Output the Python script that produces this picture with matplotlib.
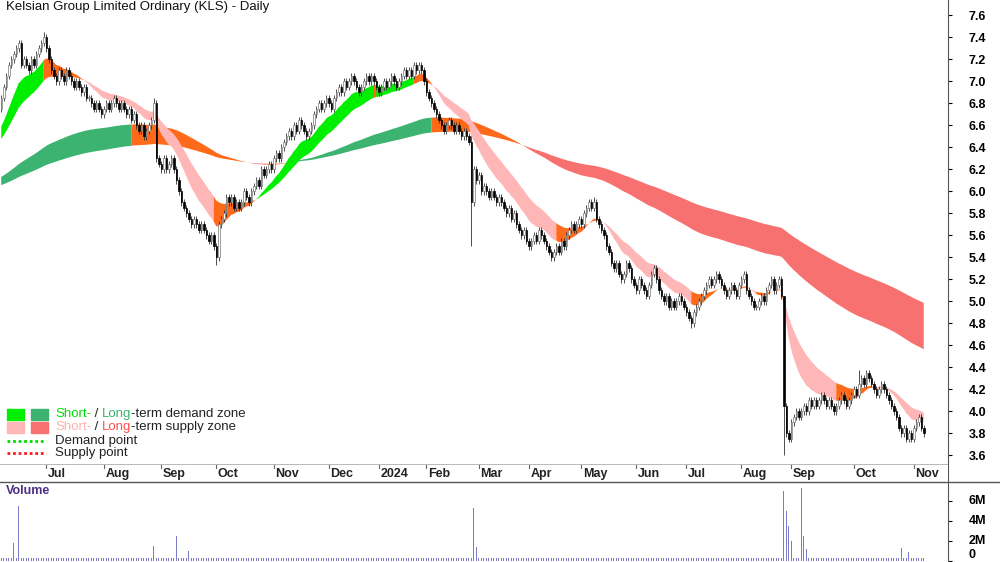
import numpy as np
import matplotlib
matplotlib.use("Agg")
import matplotlib.pyplot as plt
from matplotlib.patches import Rectangle

plt.rcParams['font.family'] = ['Liberation Sans', 'DejaVu Sans']

# daily closes (about 2.5 px per bar)
closes = [
    6.85, 6.95, 7.05, 7.15, 7.20, 7.25, 7.30, 7.35, 7.15, 7.20,
    7.15, 7.10, 7.20, 7.15, 7.25, 7.30, 7.35, 7.40, 7.30, 7.20,
    7.10, 7.05, 7.00, 7.10, 7.05, 7.00, 7.10, 7.05, 7.00, 6.95,
    7.00, 6.95, 6.90, 6.95, 6.85, 6.85, 6.80, 6.75, 6.80, 6.75,
    6.70, 6.75, 6.80, 6.75, 6.80, 6.85, 6.80, 6.75, 6.80, 6.75,
    6.70, 6.75, 6.65, 6.70, 6.60, 6.55, 6.60, 6.50, 6.55, 6.60,
    6.65, 6.80, 6.30, 6.25, 6.20, 6.30, 6.20, 6.25, 6.30, 6.20,
    6.10, 6.00, 5.90, 5.85, 5.80, 5.75, 5.70, 5.75, 5.70, 5.65,
    5.70, 5.65, 5.60, 5.55, 5.60, 5.50, 5.40, 5.70, 5.75, 5.80,
    5.95, 5.90, 5.95, 5.85, 5.90, 5.85, 5.90, 6.00, 5.95, 5.90,
    6.00, 6.05, 6.10, 6.05, 6.20, 6.15, 6.20, 6.25, 6.20, 6.30,
    6.35, 6.30, 6.40, 6.45, 6.50, 6.55, 6.50, 6.60, 6.55, 6.65,
    6.60, 6.55, 6.50, 6.55, 6.60, 6.70, 6.75, 6.80, 6.75, 6.80,
    6.85, 6.80, 6.75, 6.85, 6.90, 6.95, 6.90, 7.00, 6.95, 7.00,
    7.05, 7.00, 6.95, 6.90, 6.95, 7.00, 7.05, 7.00, 7.05, 7.00,
    6.95, 6.90, 6.95, 7.00, 6.95, 7.00, 7.05, 7.00, 6.95, 7.00,
    7.05, 7.10, 7.05, 7.10, 7.05, 7.15, 7.10, 7.15, 7.10, 7.00,
    6.90, 6.85, 6.80, 6.75, 6.70, 6.65, 6.60, 6.55, 6.60, 6.65,
    6.60, 6.55, 6.60, 6.55, 6.50, 6.55, 6.50, 6.45, 5.90, 6.20,
    6.10, 6.15, 6.00, 6.05, 6.00, 5.95, 6.00, 5.95, 5.90, 5.95,
    5.90, 5.85, 5.80, 5.85, 5.75, 5.80, 5.70, 5.65, 5.60, 5.65,
    5.55, 5.50, 5.55, 5.60, 5.55, 5.65, 5.60, 5.55, 5.50, 5.45,
    5.40, 5.45, 5.50, 5.45, 5.55, 5.50, 5.60, 5.65, 5.70, 5.65,
    5.70, 5.75, 5.70, 5.80, 5.85, 5.90, 5.85, 5.90, 5.75, 5.70,
    5.65, 5.60, 5.50, 5.45, 5.35, 5.30, 5.35, 5.25, 5.20, 5.25,
    5.35, 5.30, 5.20, 5.15, 5.10, 5.20, 5.15, 5.10, 5.05, 5.15,
    5.25, 5.30, 5.20, 5.10, 5.05, 5.00, 5.05, 4.95, 5.00, 4.95,
    5.00, 5.05, 5.00, 4.95, 4.90, 4.85, 4.80, 4.90, 4.95, 5.00,
    5.05, 5.10, 5.15, 5.20, 5.15, 5.20, 5.25, 5.20, 5.15, 5.10,
    5.05, 5.10, 5.15, 5.10, 5.05, 5.15, 5.20, 5.25, 5.10, 5.05,
    5.00, 4.95, 4.95, 5.00, 5.05, 5.00, 5.10, 5.15, 5.20, 5.10,
    5.15, 5.20, 5.05, 4.05, 3.80, 3.75, 3.90, 3.95, 4.00, 3.95,
    4.00, 4.05, 4.00, 4.10, 4.05, 4.10, 4.05, 4.10, 4.15, 4.10,
    4.05, 4.10, 4.05, 4.00, 4.05, 4.10, 4.15, 4.10, 4.05, 4.10,
    4.15, 4.20, 4.15, 4.25, 4.30, 4.25, 4.35, 4.30, 4.25, 4.20,
    4.15, 4.20, 4.25, 4.20, 4.15, 4.10, 4.05, 4.00, 3.95, 3.85,
    3.80, 3.85, 3.75, 3.80, 3.75, 3.85, 3.90, 3.95, 3.85, 3.80,
]
first_open = 6.75
# bars whose high/low stand out from the usual short wick
high_spikes = {17: 7.45, 61: 6.85, 188: 6.50, 237: 5.95, 313: 4.40, 343: 4.38}
low_spikes = {86: 5.33, 188: 5.50, 313: 3.60, 276: 4.76, 364: 3.72}

# volume in millions
vol_base = 0.3
vol_spikes = {5: 1.8, 7: 5.5, 61: 1.5, 70: 2.5, 75: 1.0, 189: 5.3, 190: 1.4,
              313: 7.0, 314: 5.0, 315: 3.5, 316: 2.0, 320: 7.3, 321: 2.5,
              322: 1.2, 360: 1.3, 363: 0.9}

month_labels = ["Jul", "Aug", "Sep", "Oct", "Nov", "Dec", "2024", "Feb", "Mar",
                "Apr", "May", "Jun", "Jul", "Aug", "Sep", "Oct", "Nov"]
month_idx = [18, 41, 64, 86, 109, 131, 151, 170, 191, 211, 232, 254, 274,
             296, 316, 341, 365]

# indicator seeds (values already in place when the chart starts)
short_seed = (6.55, 6.45)
long_seed = (6.12, 6.05)
short_spans = (14, 28)
long_spans = (120, 210)

n = len(closes)
c = np.array(closes)
o = np.concatenate([[first_open], c[:-1]])
hi = np.maximum(o, c) + 0.03
lo = np.minimum(o, c) - 0.03
for k, v in high_spikes.items():
    hi[k] = v
for k, v in low_spikes.items():
    lo[k] = v
vol = np.full(n, vol_base)
for k, v in vol_spikes.items():
    vol[k] = v


def ema(seed, span):
    a = 2 / (span + 1)
    out = np.empty(n)
    prev = seed
    for i in range(n):
        prev = prev + a * (c[i] - prev)
        out[i] = prev
    return out


s_fast, s_slow = ema(short_seed[0], short_spans[0]), ema(short_seed[1], short_spans[1])
l_fast, l_slow = ema(long_seed[0], long_spans[0]), ema(long_seed[1], long_spans[1])


def band(ax, f, s, up_col, dn_col, mix_col, lag=5):
    df = np.concatenate([f[lag:] - f[:-lag], np.repeat(f[-1] - f[-1 - lag], lag)])
    state = np.where((f > s) & (df > 0), 0, np.where((f < s) & (df < 0), 1, 2))
    x = np.arange(n)
    for k, col in enumerate([up_col, dn_col, mix_col]):
        m = state == k
        m2 = m | np.concatenate([[False], m[:-1]])
        ax.fill_between(x, f, s, where=m2, color=col, linewidth=0, zorder=1)


W, H = 1000, 562
fig = plt.figure(figsize=(10, 5.62), dpi=100)
ax = fig.add_axes([0, 1 - 482 / H, 948 / W, 482 / H])
vax = fig.add_axes([0, 0, 948 / W, 80 / H])

px = 2.5
ax.set_xlim(-0.5, 948 / px - 0.5)
ytop = 7.74
ybot = ytop - 482 / 110
ax.set_ylim(ybot, ytop)

band(ax, l_fast, l_slow, "#3cb371", "#f87171", "#ff6a1a")
band(ax, s_fast, s_slow, "#00ee00", "#ffb6b6", "#ff6a1a")

for i in range(n):
    ax.vlines(i, lo[i], hi[i], color="#333333", linewidth=0.6, zorder=2)
    up = c[i] >= o[i]
    bot, top = min(o[i], c[i]), max(o[i], c[i])
    ax.add_patch(Rectangle((i - 0.3, bot), 0.6, max(top - bot, 0.008),
                           facecolor="white" if up else "black",
                           edgecolor="#777777" if up else "black",
                           linewidth=0.5, zorder=3))

# date strip
strip_top = ytop - 465 / 110
ax.axhline(strip_top, color="#999999", linewidth=1.2)
ax.axhspan(ybot, strip_top, color="white", zorder=4)
for lab, idx in zip(month_labels, month_idx):
    ax.plot([idx, idx], [strip_top, strip_top - 0.03], color="#666666", lw=0.8, zorder=5)
    ax.text(idx + 0.6, strip_top - 0.08, lab, fontsize=9, fontweight="bold",
            va="center", ha="left", color="#222222", zorder=5)

ax.yaxis.tick_right()
ax.set_yticks(np.round(np.arange(3.6, 7.61, 0.2), 1))
ax.set_yticklabels([f"{v:.1f}" for v in np.arange(3.6, 7.61, 0.2)],
                   fontsize=9, fontweight="bold")
ax.tick_params(axis="y", length=3, direction="out", pad=12)
ax.set_xticks([])
for sp in ["top", "left", "bottom"]:
    ax.spines[sp].set_visible(False)
ax.spines["right"].set_color("#555555")

ax.text(2, 7.73, "Kelsian Group Limited Ordinary (KLS) - Daily", fontsize=9.5,
        va="top", ha="left", color="#111111")

# legend
fig.canvas.draw()
rend = fig.canvas.get_renderer()


def pieces(x0, y0, parts):
    x = x0
    for txt, col in parts:
        t = fig.text(x, y0, txt, color=col, fontsize=9.5, va="center", ha="left")
        bb = t.get_window_extent(rend)
        x += bb.width / W


rows = [
    ("box", ["#00ee00", "#3cb371"], [("Short-", "#00dd00"), (" / ", "#222222"),
                                      ("Long", "#3cb371"), ("-term demand zone", "#222222")]),
    ("box", ["#ffb6b6", "#f87171"], [("Short-", "#ffb0b0"), (" / ", "#222222"),
                                      ("Long", "#ff5050"), ("-term supply zone", "#222222")]),
    ("dot", "#00dd00", [("Demand point", "#222222")]),
    ("dot", "#ff1a1a", [("Supply point", "#222222")]),
]
ys = [414, 427, 441, 453]
for (kind, col, parts), yp in zip(rows, ys):
    yf = 1 - yp / H
    if kind == "box":
        fig.patches.append(Rectangle((7 / W, yf - 6 / H), 17 / W, 11 / H, color=col[0],
                                     transform=fig.transFigure, figure=fig))
        fig.patches.append(Rectangle((31 / W, yf - 6 / H), 17 / W, 11 / H, color=col[1],
                                     transform=fig.transFigure, figure=fig))
    else:
        fig.lines.append(plt.Line2D([7 / W, 46 / W], [yf, yf], color=col, lw=2,
                                    linestyle=(0, (1, 1)), transform=fig.transFigure))
    pieces(55 / W, yf, parts)

# volume panel
vax.bar(np.arange(n), vol, width=0.35, color="#7b7bc8", linewidth=0)
vax.set_xlim(ax.get_xlim())
vax.set_ylim(-0.15, 7.85)
vax.yaxis.tick_right()
vax.set_yticks([0, 2, 4, 6])
vax.set_yticklabels(["0", "2M", "4M", "6M"], fontsize=9, fontweight="bold")
vax.tick_params(axis="y", length=3, pad=12)
for lab in vax.get_yticklabels():
    lab.set_va("bottom" if lab.get_text() == "0" else "center")
vax.set_xticks([])
for sp in ["top", "left", "bottom"]:
    vax.spines[sp].set_visible(False)
vax.spines["right"].set_color("#555555")
vax.text(2, 7.5, "Volume", color="#4b2e83", fontsize=9, fontweight="bold",
         va="top", ha="left")
fig.add_artist(plt.Line2D([0, 1], [80 / H, 80 / H], color="#555555", lw=1,
                          transform=fig.transFigure))

fig.savefig("out.png", dpi=100)
